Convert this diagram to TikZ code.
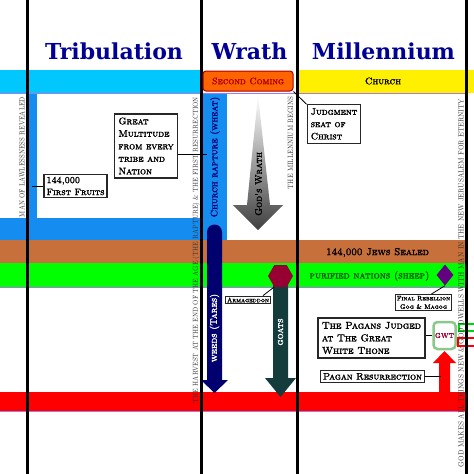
\documentclass[tikz,border=0pt]{standalone}
\usepackage{fontspec}
\usetikzlibrary{arrows.meta,positioning,shapes.geometric}
\newfontfamily\capsfont[FakeBold=2.2]{lmromancaps10-regular.otf}
\newfontfamily\headfont{DejaVu Serif}
\newcommand\sidenote[2]{\resizebox{#1}{5.4pt}{#2}}
\definecolor{skycyan}{RGB}{0,200,255}
\definecolor{rapblue}{RGB}{20,140,240}
\definecolor{sealbrown}{RGB}{200,112,60}
\definecolor{nationgreen}{RGB}{0,255,0}
\definecolor{churchyellow}{RGB}{255,240,0}
\definecolor{lilac}{RGB}{170,120,230}
\definecolor{headnavy}{RGB}{0,0,150}
\definecolor{tarenavy}{RGB}{0,0,110}
\definecolor{goatteal}{RGB}{20,60,60}
\definecolor{comingorange}{RGB}{255,100,0}
\definecolor{comingred}{RGB}{170,0,0}
\definecolor{armred}{RGB}{150,0,50}
\definecolor{gogpurple}{RGB}{100,0,130}
\definecolor{gwtgreen}{RGB}{140,200,140}
\definecolor{sheepgreen}{RGB}{0,90,0}

\begin{document}
\begin{tikzpicture}[x=1pt, y=-1pt,
  head/.style={font=\headfont\bfseries\fontsize{22}{22}\selectfont, text=headnavy, anchor=base},
  bandtext/.style={font=\capsfont\fontsize{9.5}{11}\selectfont, inner sep=0pt},
  side/.style={rotate=90, inner sep=0pt, text=black!80,
               font=\fontsize{7}{7}\selectfont},
  arrtext/.style={rotate=90, inner sep=0pt, text=white,
                  font=\capsfont\fontsize{9.5}{10}\selectfont},
  lbl/.style={rectangle, draw=black!85, line width=1.2pt, fill=white, align=left,
              inner sep=3pt, font=\capsfont\fontsize{9.6}{12.5}\selectfont},
  smallbox/.style={lbl, align=center, inner sep=1.5pt, line width=1pt,
                   font=\capsfont\fontsize{6.5}{8.5}\selectfont},
  link/.style={draw, line width=0.8pt}
]
  \fill[white] (0,0) rectangle (474,474);
  \useasboundingbox (0,0) rectangle (474,474);

  % headings
  \node[head] (trib) at (114,59) {Tribulation};
  \node[head] (wrath) at (249.5,59) {Wrath};
  \node[head] (mill) at (383.5,59) {Millennium};

  % colour bands
  \fill[skycyan] (0,70) rectangle (203,93);
  \fill[churchyellow] (297,70) rectangle (474,93);
  \fill[rapblue] (27,93) rectangle (37,240);
  \fill[rapblue] (0,218) rectangle (203,240);
  \fill[rapblue] (203,93) rectangle (227,240);
  \fill[sealbrown] (0,240) rectangle (466,263);
  \fill[nationgreen] (0,263) rectangle (466,287);
  \fill[red] (0,392) rectangle (466,411);
  \foreach \y in {93.5,287.5,411.5}
    \draw[lilac, line width=1.5pt] (0,\y) -- (466,\y);
  \draw[green!85!black, line width=1.5pt] (459,324) rectangle (476,331);
  \draw[red, line width=1.5pt] (458,338) rectangle (476,346);

  % era dividers
  \foreach \x in {27,201.5,297,466}
    \draw[line width=3pt] (\x,0) -- (\x,474);

  % side notes
  \node[side] (lawless) at (22,157) {\sidenote{120pt}{MAN OF LAWLESSNESS REVEALED}};
  \node[side] (harvest) at (196,250) {\sidenote{306pt}{THE HARVEST AT THE END OF THE AGE (THE RAPTURE) \& THE FIRST RESURRECTION}};
  \node[side] (begins) at (290.5,143) {\sidenote{92pt}{THE MILLENNIUM BEGINS}};
  \node[side] (eternity) at (461,283)
    {\sidenote{368pt}{GOD MAKES ALL THINGS NEW \& GOD DWELLS WITH MAN IN THE NEW JERUSALEM FOR ETERNITY}};

  % God's wrath
  \shade[top color=white, bottom color=black!75]
    (258,95) -- (270,205) -- (283,205) -- (258,230) -- (233,205) -- (247,205) -- cycle;
  \node[arrtext, text=black] (godswrath) at (258.5,184) {God's Wrath};

  % weeds and goats
  \fill[tarenavy] (207,380) -- (207,232) arc[start angle=180, end angle=360, radius=7.5]
    -- (222,380) -- (228,380) -- (214.5,393) -- (201,380) -- cycle;
  \node[arrtext] (weeds) at (214.5,328) {weeds (Tares)};
  \fill[goatteal] (273,283) -- (288,283) -- (288,378) -- (296,378) -- (280.5,397)
    -- (265,378) -- (273,378) -- cycle;
  \node[arrtext] (goats) at (280.5,332) {goats};
  \fill[red] (439,392) -- (439,363) -- (433,363) -- (444.5,351) -- (456,363)
    -- (450,363) -- (450,392) -- cycle;

  % band labels
  \node[bandtext, text=headnavy!80!black] (rapture) at (215,157) [rotate=90] {Church rapture (wheat)};
  \node[draw=comingred, fill=comingorange, rounded corners=3pt, line width=1pt,
        minimum width=90pt, minimum height=20pt, inner sep=0pt,
        font=\capsfont\fontsize{9.3}{9}\selectfont, text=comingred] (coming) at (248,81) {Second Coming};
  \node[bandtext] (church) at (383,81) {Church};
  \node[bandtext, font=\capsfont\fontsize{10}{11}\selectfont] (jews) at (377.5,252.5) {144,000 Jews Sealed};
  \node[bandtext, font=\capsfont\fontsize{9.8}{10}\selectfont, text=sheepgreen] (sheep) at (369.5,276) {purified nations (sheep)};

  % markers
  \node[regular polygon, regular polygon sides=6, fill=armred, minimum size=25pt,
        inner sep=0pt] (armag) at (280.5,276) {};
  \node[diamond, fill=gogpurple, minimum width=17pt, minimum height=21pt,
        inner sep=0pt] (rebel) at (445,275) {};

  % boxes
  \node[lbl, inner sep=2.5pt, font=\capsfont\fontsize{9.2}{12}\selectfont] (fruits) at (75.5,186)
    {144,000\\First Fruits};
  \node[lbl, inner sep=3.5pt] (multitude) at (146,146)
    {Great\\Multitude\\from every\\tribe and\\Nation};
  \node[lbl, inner sep=3.5pt, font=\capsfont\fontsize{9.4}{12.3}\selectfont] (judgment) at (334,124)
    {Judgment\\seat of\\Christ};
  \node[smallbox] (armbox) at (248,300) {Armageddon};
  \node[smallbox] (gogbox) at (423.5,302.5) {Final Rebellion\\Gog \& Magog};
  \node[lbl, inner sep=4pt, font=\capsfont\fontsize{10}{12.5}\selectfont] (pagans) at (371.5,338)
    {The Pagans Judged\\at The Great\\White Thone};
  \node[lbl, inner sep=2.5pt, font=\capsfont\fontsize{9.5}{11}\selectfont] (resurrect) at (372.5,376.5)
    {Pagan Resurrection};
  \node[draw=gwtgreen, line width=2.5pt, rounded corners=4pt, fill=white,
        minimum width=22pt, minimum height=27pt, inner sep=0pt,
        font=\capsfont\fontsize{7}{7}\selectfont, text=armred] (gwt) at (444.5,335.5) {GWT};

  % connectors
  \coordinate (fruitsend) at (32,186);
  \coordinate (multend) at (207,154);
  \coordinate (resend) at (441,376.5);
  \draw[link] (fruits.west) -- (fruitsend);
  \draw[link] (multitude.east |- multend) -- (multend);
  \draw[link] (coming.south east) -- (judgment.north west);
  \draw[link] (armag.240) -- ([xshift=-8pt]armbox.north east);
  \draw[link] (rebel.south) -- ([xshift=8pt]gogbox.north);
  \draw[link] (gwt.west -| pagans.east) -- (gwt.west);
  \draw[link] (resurrect.east) -- (resend);
\end{tikzpicture}
\end{document}
